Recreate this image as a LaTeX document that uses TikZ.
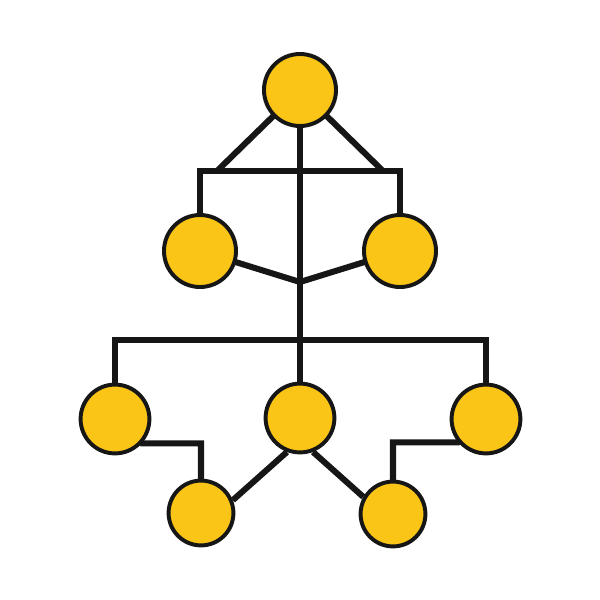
\documentclass[tikz,border=0pt]{standalone}
\usetikzlibrary{backgrounds,calc}
\definecolor{dotfill}{RGB}{250,197,22}
\definecolor{ink}{RGB}{22,22,22}
\begin{document}
\begin{tikzpicture}[x=0.025cm,y=-0.025cm,
  dot/.style={circle,draw=ink,fill=dotfill,line width=2.8pt,inner sep=0pt},
  big/.style={dot,minimum size=1.8cm},
  mid/.style={dot,minimum size=1.72cm},
  small/.style={dot,minimum size=1.62cm},
  link/.style={draw=ink,line width=4.3pt,line join=miter}]
\useasboundingbox (0,0) rectangle (600,600);
\node[big] (top) at (300,90) {};
\node[big] (l2) at (200,251) {};
\node[big] (r2) at (400,251) {};
\node[mid] (lm) at (115,419) {};
\node[mid] (cm) at (300,418) {};
\node[mid] (rm) at (486,419) {};
\node[small] (bl) at (201,513) {};
\node[small] (br) at (393,514) {};
\coordinate (barA) at (300,171);
\coordinate (barB) at (300,340);
\coordinate (join) at (300,282);
\coordinate (dl) at (217,171);
\coordinate (dr) at (383,171);
\begin{pgfonlayer}{background}
\draw[link] (top.center) -- (dl);
\draw[link] (top.center) -- (dr);
\draw[link] (l2.center) -- (l2.center |- barA) -- (r2.center |- barA) -- (r2.center);
\draw[link] (top.center) -- (cm.center);
\draw[link] (l2.center) -- (join) -- (r2.center);
\draw[link] (lm.center) -- (lm.center |- barB) -- (rm.center |- barB) -- (rm.center);
\draw[link] (lm.center) -- (lm.-42) -| (bl.center);
\draw[link] (rm.center) -- (rm.220) -| (br.center);
\draw[link] (cm.249) -- (bl.22);
\draw[link] (cm.291) -- (br.150);
\end{pgfonlayer}
\end{tikzpicture}
\end{document}
